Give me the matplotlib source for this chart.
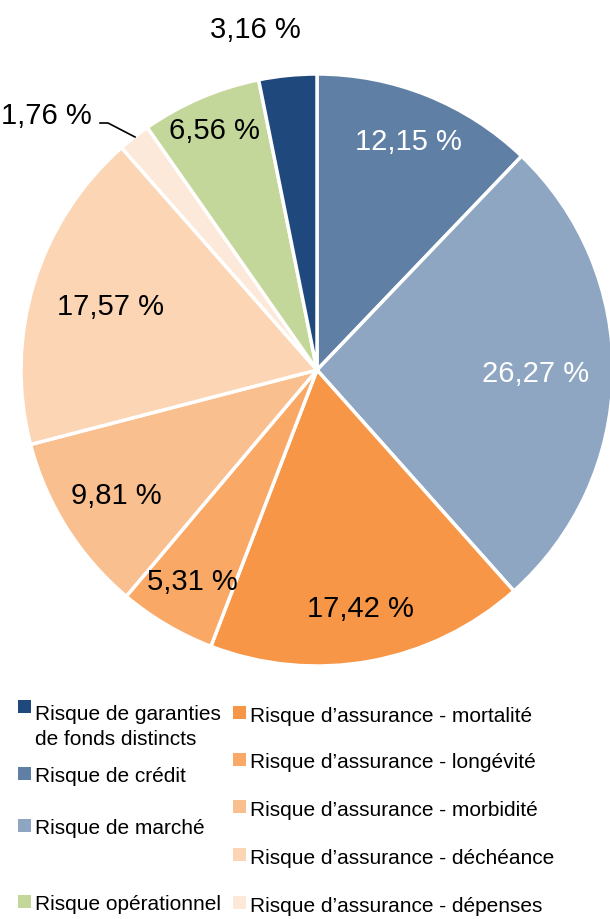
import matplotlib.pyplot as plt
import numpy as np
from matplotlib.patches import Rectangle

plt.rcParams['font.family'] = ['Liberation Sans', 'DejaVu Sans']

# slices, clockwise from 12 o'clock
categories = ["Risque de crédit", "Risque de marché", "Risque d’assurance - mortalité",
              "Risque d’assurance - longévité", "Risque d’assurance - morbidité",
              "Risque d’assurance - déchéance", "Risque d’assurance - dépenses",
              "Risque opérationnel", "Risque de garanties\nde fonds distincts"]
values = [12.15, 26.27, 17.42, 5.31, 9.81, 17.57, 1.76, 6.56, 3.16]
labels = ["12,15 %", "26,27 %", "17,42 %", "5,31 %", "9,81 %", "17,57 %", "1,76 %", "6,56 %", "3,16 %"]
colors = ["#5f7fa4", "#8ea6c2", "#f79646", "#f9a866", "#fabf8f", "#fcd5b4", "#fde9d9", "#c4d79b", "#1f497d"]
text_colors = ["white", "white", "black", "black", "black", "black", "black", "black", "black"]
label_r = [0.83, 0.74, 0.82, 0.83, 0.80, 0.73, None, 0.88, None]

fig = plt.figure(figsize=(6.10, 9.19), dpi=100)
ax = fig.add_axes([21 / 610, 1 - 666 / 919, 592 / 610, 592 / 919])
wedges, _ = ax.pie(values, colors=colors, startangle=90, counterclock=False,
                   radius=1, wedgeprops=dict(edgecolor="white", linewidth=2.5))
ax.set_xlim(-1, 1)
ax.set_ylim(-1, 1)
ax.set_aspect("equal")
ax.axis("off")


def px(x, y):
    return ((x - 317) / 296, (370 - y) / 296)


for w, lab, tc, r in zip(wedges, labels, text_colors, label_r):
    if r is None:
        continue
    a = np.deg2rad((w.theta1 + w.theta2) / 2)
    ax.text(r * np.cos(a), r * np.sin(a), lab, ha="center", va="center",
            fontsize=21, color=tc)

# outside labels with leader lines
ax.text(*px(255, 30), labels[8], ha="center", va="center", fontsize=21)
ax.plot(*zip(px(270, 51), px(291, 73)), color="black", lw=1.2)
ax.text(*px(92, 116), labels[6], ha="right", va="center", fontsize=21)
ax.plot(*zip(px(100, 123), px(108, 123), px(135, 137)), color="black", lw=1.2)

# legend
left_items = [8, 0, 1, 7]
left_y = [727, 777, 829, 905]
right_items = [2, 3, 4, 5, 6]
right_y = [716, 763, 810, 858, 906]
for items, ys, x0 in [(left_items, left_y, 18), (right_items, right_y, 233)]:
    for i, y in zip(items, ys):
        sy = y - 17 if "\n" in categories[i] else y
        fig.add_artist(Rectangle((x0 / 610, 1 - (sy + 3) / 919), 13 / 610, 13 / 919,
                                 transform=fig.transFigure, color=colors[i], lw=0))
        fig.text((x0 + 17) / 610, 1 - y / 919, categories[i], ha="left", va="center",
                 fontsize=15, linespacing=1.45)

fig.savefig("out.png", dpi=100)
